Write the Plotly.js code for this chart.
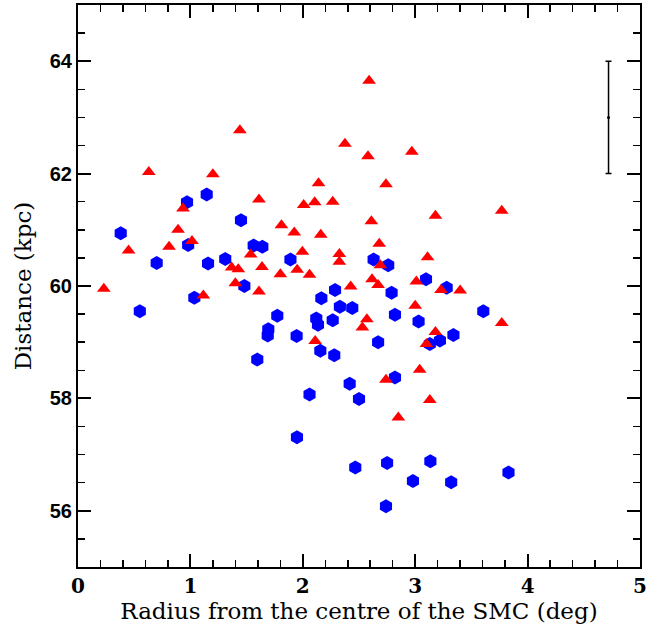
<!DOCTYPE html>
<html>
<head>
<meta charset="utf-8">
<script src="https://cdn.plot.ly/plotly-3.0.1.min.js"></script>
<style>html,body{margin:0;padding:0;background:#fff;}#chart{width:647px;height:635px;}</style>
</head>
<body>
<div id="chart"></div>
<script>
// Blue hexagons
const blueX = [0.38,0.55,0.70,0.97,0.98,1.035,1.145,1.157,1.31,1.45,1.48,1.563,1.64,1.595,1.693,1.688,1.773,1.89,1.945,1.948,2.06,2.12,2.135,2.156,2.165,2.266,2.28,2.287,2.33,2.417,2.44,2.467,2.50,2.63,2.67,2.74,2.75,2.76,2.79,2.82,2.82,2.98,3.03,3.096,3.13,3.135,3.22,3.28,3.32,3.34,3.606,3.83];
const blueY = [60.94,59.55,60.41,61.49,60.73,59.79,61.63,60.40,60.48,61.17,60.00,60.72,60.70,58.69,59.23,59.12,59.47,60.47,59.11,57.31,58.07,59.42,59.31,58.85,59.78,59.39,58.77,59.93,59.63,58.26,59.61,56.77,57.99,60.47,59.00,56.08,56.85,60.37,59.88,59.49,58.37,56.53,59.37,60.12,58.97,56.88,59.03,59.97,56.51,59.13,59.55,56.68];
// Red triangles
const redX = [0.23,0.45,0.63,0.81,0.89,0.934,1.014,1.115,1.20,1.367,1.40,1.426,1.44,1.536,1.61,1.61,1.637,1.80,1.81,1.924,1.95,1.996,2.008,2.06,2.106,2.11,2.14,2.16,2.266,2.325,2.325,2.375,2.426,2.53,2.57,2.58,2.59,2.61,2.616,2.67,2.68,2.69,2.74,2.74,2.85,2.97,3.00,3.01,3.04,3.10,3.11,3.13,3.18,3.18,3.23,3.40,3.77,3.77];
const redY = [59.95,60.63,62.03,60.70,61.00,61.38,60.80,59.83,61.99,60.33,60.05,60.30,62.77,60.56,61.54,59.90,60.34,60.21,61.08,60.95,60.29,60.61,61.44,60.20,61.49,59.02,61.83,60.91,61.50,60.57,60.43,62.53,59.99,59.26,59.41,62.31,63.65,61.15,60.12,60.02,60.75,60.37,61.81,58.33,57.66,62.39,59.65,60.08,58.51,58.97,60.51,57.97,61.25,59.18,59.93,59.92,61.34,59.34];
// Typical error bar
const errX = [4.72];
const errY = [63];
const errSize = [1];

const xTickVals = [0,1,2,3,4,5];
const yTickVals = [56,58,60,62,64];

const traces = [
  {x: blueX, y: blueY, type: 'scatter', mode: 'markers',
   marker: {symbol: 'hexagon', size: 14, color: '#0000ff', line: {width: 0}}, hoverinfo: 'x+y'},
  {x: redX, y: redY, type: 'scatter', mode: 'markers',
   marker: {symbol: 'triangle-up', size: 12, color: '#ff0000', line: {width: 0}}, hoverinfo: 'x+y'},
  {x: errX, y: errY, type: 'scatter', mode: 'markers',
   marker: {size: 3, color: '#000'},
   error_y: {type: 'data', array: errSize, visible: true, color: '#000', thickness: 1.5, width: 3}}
];

const axisCommon = {
  showline: true, linecolor: '#000', linewidth: 2, mirror: 'ticks',
  ticks: 'inside', ticklen: 13, tickwidth: 2, tickcolor: '#000',
  showgrid: false, zeroline: false
};

const layout = {
  width: 647, height: 635,
  margin: {l: 78, r: 7, t: 5, b: 68},
  paper_bgcolor: '#fff', plot_bgcolor: '#fff',
  showlegend: false,
  xaxis: Object.assign({}, axisCommon, {
    range: [0, 5], tickvals: xTickVals, ticktext: xTickVals.map(String),
    tickfont: {family: 'DejaVu Serif', size: 20, color: '#000', weight: 'bold'},
    minor: {dtick: 0.2, ticklen: 7, tickwidth: 1.5, tickcolor: '#000', ticks: 'inside'},
    title: {text: 'Radius from the centre of the SMC (deg)', font: {family: 'DejaVu Serif', size: 23, color: '#000'}, standoff: 6}
  }),
  yaxis: Object.assign({}, axisCommon, {
    range: [55, 65], tickvals: yTickVals, ticktext: yTickVals.map(String),
    tickfont: {family: 'Liberation Sans', size: 20, color: '#000', weight: 'bold'},
    minor: {dtick: 0.5, ticklen: 7, tickwidth: 1.5, tickcolor: '#000', ticks: 'inside'},
    title: {text: 'Distance (kpc)', font: {family: 'DejaVu Serif', size: 23, color: '#000'}, standoff: 12}
  })
};

Plotly.newPlot('chart', traces, layout, {displayModeBar: false, staticPlot: true});
</script>
</body>
</html>
